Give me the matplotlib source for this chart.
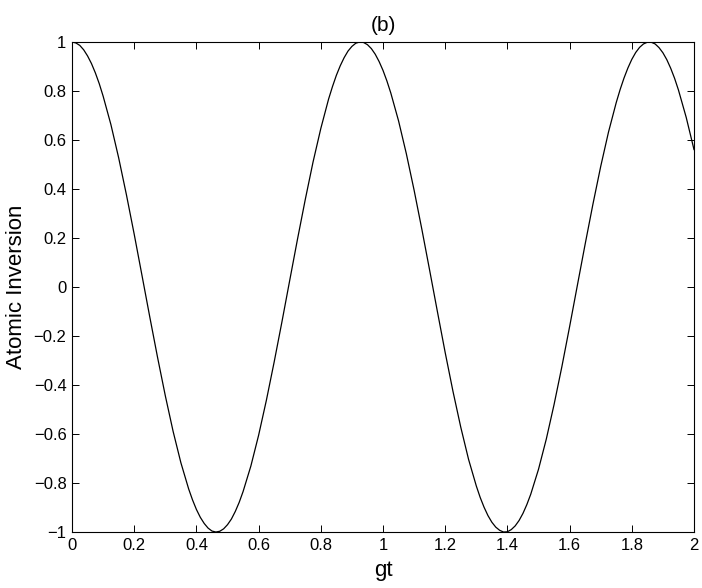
import matplotlib
matplotlib.use('Agg')
import matplotlib.pyplot as plt

# gt positions (finer near the extrema)
gt = [
    0.0, 0.0125, 0.025, 0.0375, 0.05, 0.0625, 0.075, 0.0875, 0.1, 0.125,
    0.15, 0.175, 0.2, 0.225, 0.25, 0.275, 0.3, 0.325, 0.35, 0.375,
    0.3875, 0.4, 0.4125, 0.425, 0.4375, 0.45, 0.4625, 0.475, 0.4875, 0.5,
    0.5125, 0.525, 0.5375, 0.55, 0.575, 0.6, 0.625, 0.65, 0.675, 0.7,
    0.725, 0.75, 0.775, 0.8, 0.825, 0.8375, 0.85, 0.8625, 0.875, 0.8875,
    0.9, 0.9125, 0.925, 0.9375, 0.95, 0.9625, 0.975, 0.9875, 1.0, 1.0125,
    1.025, 1.05, 1.075, 1.1, 1.125, 1.15, 1.175, 1.2, 1.225, 1.25,
    1.275, 1.3, 1.3125, 1.325, 1.3375, 1.35, 1.3625, 1.375, 1.3875, 1.4,
    1.4125, 1.425, 1.4375, 1.45, 1.4625, 1.475, 1.5, 1.525, 1.55, 1.575,
    1.6, 1.625, 1.65, 1.675, 1.7, 1.725, 1.75, 1.7625, 1.775, 1.7875,
    1.8, 1.8125, 1.825, 1.8375, 1.85, 1.8625, 1.875, 1.8875, 1.9, 1.9125,
    1.925, 1.9375, 1.95, 1.975, 2.0,
]
# atomic inversion
inversion = [
    1.000, 0.996, 0.986, 0.968, 0.943, 0.912, 0.874, 0.830, 0.779, 0.663,
    0.527, 0.376, 0.215, 0.047, -0.122, -0.287, -0.444, -0.589, -0.717, -0.824,
    -0.869, -0.908, -0.940, -0.965, -0.984, -0.996, -1.000, -0.997, -0.987, -0.970,
    -0.947, -0.916, -0.879, -0.835, -0.731, -0.605, -0.462, -0.306, -0.142, 0.027,
    0.195, 0.357, 0.510, 0.647, 0.767, 0.818, 0.864, 0.903, 0.936, 0.963,
    0.982, 0.995, 1.000, 0.998, 0.989, 0.973, 0.950, 0.920, 0.884, 0.841,
    0.792, 0.678, 0.544, 0.395, 0.235, 0.068, -0.101, -0.268, -0.426, -0.572,
    -0.703, -0.812, -0.859, -0.899, -0.933, -0.960, -0.980, -0.993, -1.000, -0.999,
    -0.990, -0.975, -0.953, -0.924, -0.888, -0.846, -0.744, -0.621, -0.480, -0.326,
    -0.162, 0.007, 0.175, 0.338, 0.492, 0.632, 0.753, 0.806, 0.853, 0.894,
    0.929, 0.957, 0.978, 0.992, 0.999, 0.999, 0.992, 0.977, 0.956, 0.928,
    0.893, 0.852, 0.804, 0.692, 0.561,
]
xticks = [0, 0.2, 0.4, 0.6, 0.8, 1, 1.2, 1.4, 1.6, 1.8, 2]
yticks = [-1, -0.8, -0.6, -0.4, -0.2, 0, 0.2, 0.4, 0.6, 0.8, 1]

plt.rcParams['font.family'] = ['Liberation Sans', 'DejaVu Sans']

fig = plt.figure(figsize=(7.02, 5.88), dpi=100)
ax = fig.add_axes([0.1026, 0.0952, 0.886, 0.8334])
ax.plot(gt, inversion, color='black', linewidth=0.9, solid_joinstyle='round')

ax.set_xlim(0, 2)
ax.set_ylim(-1, 1)
ax.set_xticks(xticks)
ax.set_xticklabels([f'{v:g}' for v in xticks])
ax.set_yticks(yticks)
ax.set_yticklabels([f'{v:g}'.replace('-', '\u2212') for v in yticks])
ax.tick_params(direction='in', top=True, right=True, length=5, width=0.7,
               labelsize=12, pad=4)
for s in ax.spines.values():
    s.set_linewidth(0.8)

ax.set_title('(b)', fontsize=15, pad=8)
ax.set_xlabel('gt', fontsize=16, labelpad=5)
ax.set_ylabel('Atomic Inversion', fontsize=16, labelpad=5)

fig.savefig('out.png', dpi=100)
